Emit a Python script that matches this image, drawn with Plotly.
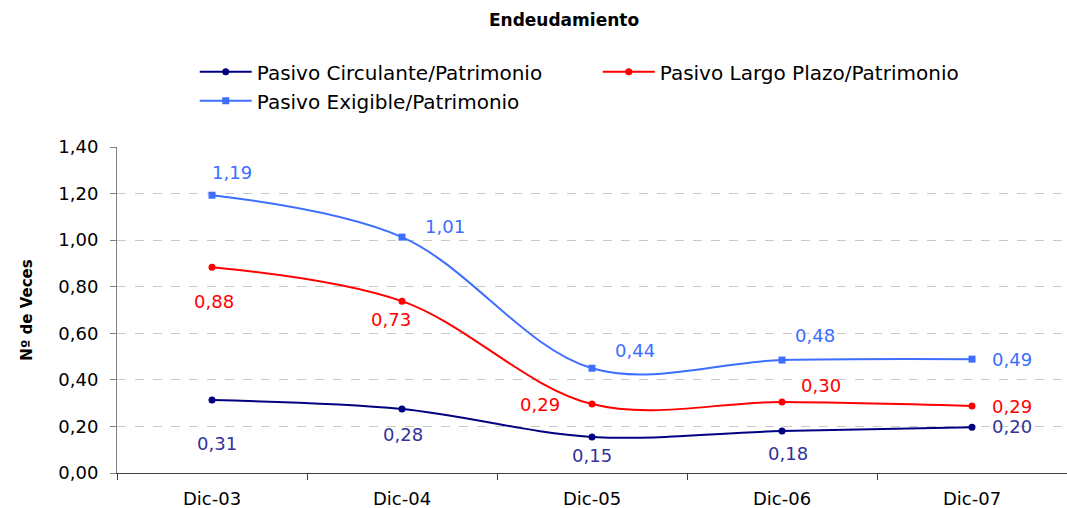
import plotly.graph_objects as go

categories = ["Dic-03", "Dic-04", "Dic-05", "Dic-06", "Dic-07"]
pasivo_circulante = [0.313, 0.275, 0.155, 0.180, 0.197]
pasivo_largo = [0.884, 0.738, 0.296, 0.305, 0.288]
pasivo_exigible = [1.193, 1.013, 0.450, 0.485, 0.489]
labels_circulante = ["0,31", "0,28", "0,15", "0,18", "0,20"]
labels_largo = ["0,88", "0,73", "0,29", "0,30", "0,29"]
labels_exigible = ["1,19", "1,01", "0,44", "0,48", "0,49"]
y_ticks = [0, 0.2, 0.4, 0.6, 0.8, 1.0, 1.2, 1.4]

# label offsets in pixels (dx, dy with dy positive = up)
off_circ = [(5, -43), (1, -26), (0, -19), (6, -22), (40, 1)]
off_largo = [(2, -34), (-11, -18), (-52, 0), (39, 16), (40, -1)]
off_exig = [(20, 23), (43, 11), (43, 18), (33, 25), (40, 0)]

C_CIRC = "#000080"
C_CIRC_TXT = "#333399"
C_LARGO = "#FF0000"
C_EXIG = "#3D6EFF"
FONT = "DejaVu Sans, Liberation Sans, Arial"

fig = go.Figure()
fig.add_trace(go.Scatter(x=categories, y=pasivo_circulante, name="Pasivo Circulante/Patrimonio",
                         mode="lines+markers", line=dict(color=C_CIRC, width=2, shape="spline", smoothing=1),
                         marker=dict(symbol="circle", size=7, color=C_CIRC)))
fig.add_trace(go.Scatter(x=categories, y=pasivo_largo, name="Pasivo Largo Plazo/Patrimonio",
                         mode="lines+markers", line=dict(color=C_LARGO, width=2, shape="spline", smoothing=1),
                         marker=dict(symbol="circle", size=7, color=C_LARGO)))
fig.add_trace(go.Scatter(x=categories, y=pasivo_exigible, name="Pasivo Exigible/Patrimonio",
                         mode="lines+markers", line=dict(color=C_EXIG, width=2, shape="spline", smoothing=1),
                         marker=dict(symbol="square", size=7, color=C_EXIG)))

for vals, labs, offs, col in [(pasivo_circulante, labels_circulante, off_circ, C_CIRC_TXT),
                              (pasivo_largo, labels_largo, off_largo, C_LARGO),
                              (pasivo_exigible, labels_exigible, off_exig, C_EXIG)]:
    for c, v, t, (dx, dy) in zip(categories, vals, labs, offs):
        fig.add_annotation(x=c, y=v, text=t, showarrow=False, xshift=dx, yshift=dy,
                           font=dict(size=18, color=col, family=FONT))

fig.update_layout(
    width=1067, height=508,
    margin=dict(l=117, r=0, t=147, b=35, autoexpand=False),
    paper_bgcolor="white", plot_bgcolor="white",
    separators=",.",
    font=dict(family=FONT, color="black", size=17),
    title=dict(text="<b>Endeudamiento</b>", x=0.5286, xanchor="center", y=0.9606, yanchor="middle",
               xref="container", yref="container", font=dict(size=17, color="black")),
    showlegend=True,
    legend=dict(orientation="h", xref="container", yref="container",
                x=0.1825, xanchor="left", y=0.897, yanchor="top",
                entrywidth=336, entrywidthmode="pixels", font=dict(size=20),
                bgcolor="rgba(0,0,0,0)", tracegroupgap=0, itemwidth=52),
)
fig.update_xaxes(type="category", range=[-0.5, 4.5], showgrid=False, showline=True,
                 linecolor="#404040", linewidth=1, ticks="outside", tickson="boundaries",
                 ticklen=6, tickcolor="#404040", tickfont=dict(size=18), automargin=False,
                 ticklabelstandoff=9)
fig.update_yaxes(range=[0, 1.4], tickvals=y_ticks, tickformat=".2f", showgrid=True,
                 gridcolor="#C8C8C8", griddash="dash", gridwidth=1, showline=True,
                 linecolor="#808080", linewidth=1, ticks="outside", ticklen=6, tickcolor="#808080",
                 tickfont=dict(size=18), zeroline=False, automargin=False, ticklabelstandoff=8,
                 title=dict(text="<b>Nº de Veces</b>", font=dict(size=15, family=FONT),
                            standoff=22))

fig.write_html("out.html", config={"displayModeBar": False},
               post_script="document.body.style.margin='0';")
